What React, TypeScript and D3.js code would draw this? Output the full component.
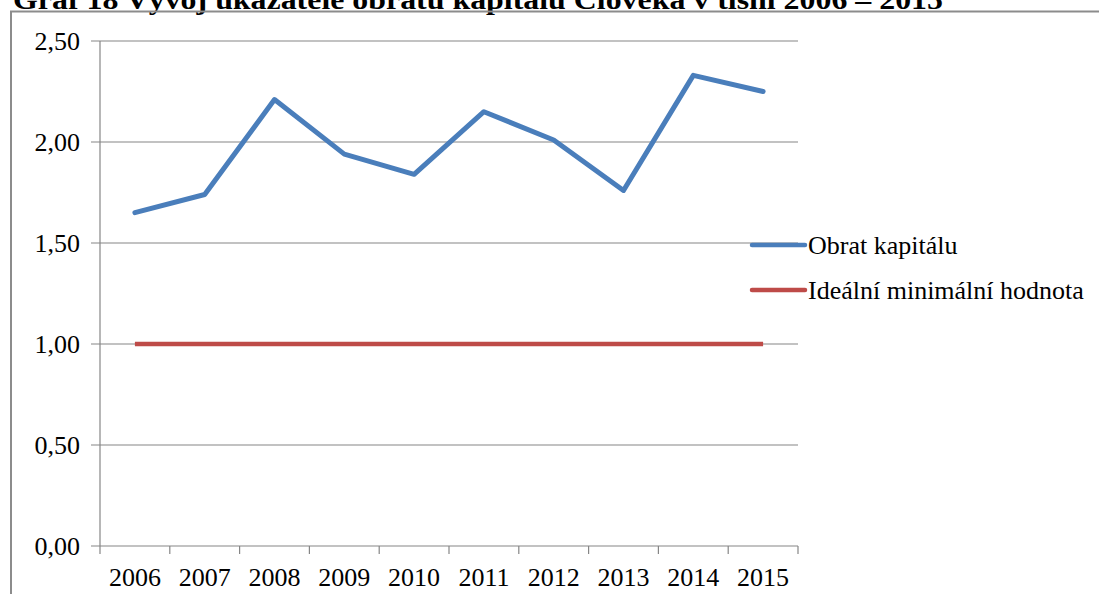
import React from 'react';
import * as d3 from 'd3';

const years = ['2006', '2007', '2008', '2009', '2010', '2011', '2012', '2013', '2014', '2015'];
const obratKapitalu = [1.65, 1.74, 2.21, 1.94, 1.84, 2.15, 2.01, 1.76, 2.33, 2.25];
const idealniMinimum = [1, 1, 1, 1, 1, 1, 1, 1, 1, 1];
const yTicks = [0, 0.5, 1, 1.5, 2, 2.5];
const seriesNames = ['Obrat kapitálu', 'Ideální minimální hodnota'];
const title = 'Graf 18 Vývoj ukazatele obratu kapitálu Člověka v tísni 2006 – 2015';

const W = 1099;
const H = 594;
const font = '"Liberation Serif", "Times New Roman", serif';

export default function App() {
  // plot area, same as the Excel-like original
  const margin = { top: 41, right: 301, bottom: 48, left: 100 };
  const x = d3
    .scaleBand()
    .domain(years)
    .range([margin.left, W - margin.right]);
  const y = d3
    .scaleLinear()
    .domain([0, 2.5])
    .range([H - margin.bottom, margin.top]);

  const line = d3
    .line<number>()
    .x((d, i) => x(years[i])! + x.bandwidth() / 2)
    .y((d) => y(d));

  const fmt = (v: number) => v.toFixed(2).replace('.', ',');
  const grid = '#868686';
  const colors = ['#4a7ebb', '#be4b48'];
  const x0 = margin.left;
  const x1 = W - margin.right;
  const yBase = y(0);

  return (
    <svg
      width={W}
      height={H}
      style={{ position: 'absolute', left: 0, top: 0, background: '#fff' }}
      fontFamily={font}
    >
      <text
        x={13}
        y={9}
        fontSize={27}
        fontWeight="bold"
        textLength={930}
        lengthAdjust="spacingAndGlyphs"
      >
        {title}
      </text>
      {/* chart frame */}
      <path d={`M11,${H + 2}V11.5H${W + 2}`} fill="none" stroke="#8c8c8c" strokeWidth={2} />

      {/* gridlines + y ticks */}
      {yTicks.map((t) => (
        <g key={t}>
          <line x1={x0 - 9} x2={x1} y1={y(t)} y2={y(t)} stroke={grid} strokeWidth={1.2} />
          <text x={80} y={y(t) + 9} fontSize={26} textAnchor="end">
            {fmt(t)}
          </text>
        </g>
      ))}
      <line x1={x0} x2={x0} y1={y(2.5)} y2={yBase} stroke={grid} strokeWidth={1.2} />

      {/* x ticks */}
      {years.map((yr) => (
        <g key={yr}>
          <line
            x1={x(yr)!}
            x2={x(yr)!}
            y1={yBase}
            y2={yBase + 8}
            stroke={grid}
            strokeWidth={1.2}
          />
          <text x={x(yr)! + x.bandwidth() / 2} y={586} fontSize={26} textAnchor="middle">
            {yr}
          </text>
        </g>
      ))}
      <line x1={x1} x2={x1} y1={yBase} y2={yBase + 8} stroke={grid} strokeWidth={1.2} />

      {/* series */}
      <path d={line(idealniMinimum)!} fill="none" stroke={colors[1]} strokeWidth={4.5} />
      <path
        d={line(obratKapitalu)!}
        fill="none"
        stroke={colors[0]}
        strokeWidth={5}
        strokeLinejoin="round"
        strokeLinecap="round"
      />

      {/* legend */}
      {seriesNames.map((name, i) => (
        <g key={name} transform={`translate(752,${245 + i * 45})`}>
          <line x1={0} x2={53} y1={0} y2={0} stroke={colors[i]} strokeWidth={4.5} strokeLinecap="round" />
          <text x={56} y={9} fontSize={26}>
            {name}
          </text>
        </g>
      ))}
    </svg>
  );
}
